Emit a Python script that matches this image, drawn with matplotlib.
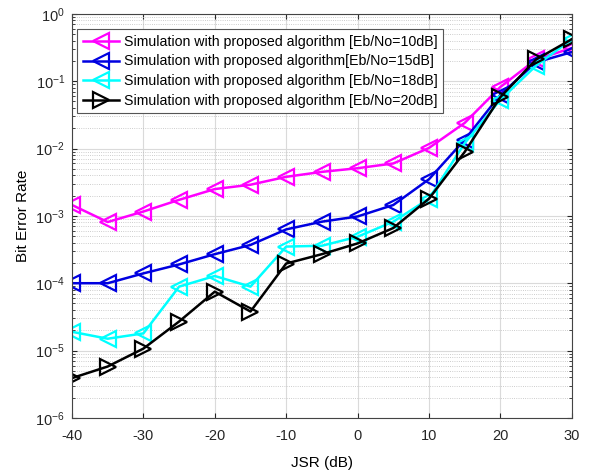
import matplotlib
matplotlib.use("Agg")
import matplotlib.pyplot as plt
from matplotlib.ticker import LogLocator, FixedLocator, NullLocator, NullFormatter

plt.rcParams["font.family"] = ["Liberation Sans", "DejaVu Sans"]
plt.rcParams["mathtext.fontset"] = "custom"
plt.rcParams["mathtext.rm"] = "Liberation Sans"
plt.rcParams["axes.unicode_minus"] = False

jsr = [-40, -35, -30, -25, -20, -15, -10, -5, 0, 5, 10, 15, 20, 25, 30]

ber_10db = [1.45e-3, 8.1e-4, 1.16e-3, 1.73e-3, 2.5e-3, 2.9e-3, 3.8e-3, 4.5e-3,
            5.1e-3, 6.0e-3, 1.02e-2, 2.4e-2, 8.2e-2, 0.21, 0.31]
ber_15db = [1.0e-4, 1.0e-4, 1.4e-4, 1.9e-4, 2.7e-4, 3.7e-4, 6.3e-4, 8.2e-4,
            9.8e-4, 1.45e-3, 3.5e-3, 1.35e-2, 6.3e-2, 0.19, 0.27]
ber_18db = [1.9e-5, 1.5e-5, 1.8e-5, 8.9e-5, 1.28e-4, 8.9e-5, 3.5e-4, 3.6e-4,
            4.9e-4, 8.2e-4, 1.8e-3, 1.2e-2, 5.3e-2, 0.17, 0.42]
ber_20db = [3.9e-6, 5.8e-6, 1.07e-5, 2.7e-5, 7.5e-5, 3.8e-5, 1.96e-4, 2.7e-4,
            3.9e-4, 6.6e-4, 1.8e-3, 8.9e-3, 5.8e-2, 0.21, 0.42]

series = [
    ("Simulation with proposed algorithm [Eb/No=10dB]", ber_10db, "#FF00FF", "<"),
    ("Simulation with proposed algorithm[Eb/No=15dB]", ber_15db, "#0000E0", "<"),
    ("Simulation with proposed algorithm [Eb/No=18dB]", ber_18db, "#00FFFF", "<"),
    ("Simulation with proposed algorithm [Eb/No=20dB]", ber_20db, "#000000", ">"),
]

fig = plt.figure(figsize=(5.95, 4.76), dpi=100)
ax = fig.add_axes([0.121, 0.122, 0.840, 0.849])

for label, vals, color, marker in series:
    ax.semilogy(jsr, vals, color=color, marker=marker, markersize=11,
                markerfacecolor="none", markeredgewidth=1.6, linewidth=1.8,
                label=label)

ax.set_xlim(-40, 30)
ax.set_ylim(1e-6, 1)
ax.xaxis.set_major_locator(FixedLocator(list(range(-40, 31, 10))))
ax.xaxis.set_minor_locator(NullLocator())
ax.yaxis.set_major_locator(LogLocator(base=10, numticks=10))
ax.yaxis.set_minor_locator(LogLocator(base=10, subs=range(2, 10), numticks=20))
ax.yaxis.set_minor_formatter(NullFormatter())

ax.grid(True, which="major", color="#DADADA", linewidth=0.8, linestyle="-")
ax.grid(True, which="minor", axis="y", color="#BDBDBD", linewidth=0.6, linestyle=":")
ax.tick_params(which="both", direction="in", top=True, right=True,
               labelsize=10.5, colors="#262626")
ax.tick_params(axis="x", pad=8)
ax.tick_params(axis="y", pad=5)
ax.tick_params(which="minor", length=2.5)
for sp in ax.spines.values():
    sp.set_color("#444444")

ax.set_xlabel("JSR (dB)", fontsize=11, labelpad=9)
ax.set_ylabel("Bit Error Rate", fontsize=11, labelpad=4)

leg = ax.legend(loc="upper left", bbox_to_anchor=(0.01, 0.962), borderaxespad=0,
                fontsize=10.2, frameon=True, fancybox=False, framealpha=1,
                edgecolor="#555555", borderpad=0.4, handlelength=2.6,
                labelspacing=0.4, handletextpad=0.3)
leg.get_frame().set_linewidth(0.8)

fig.savefig("out.png", dpi=100)
